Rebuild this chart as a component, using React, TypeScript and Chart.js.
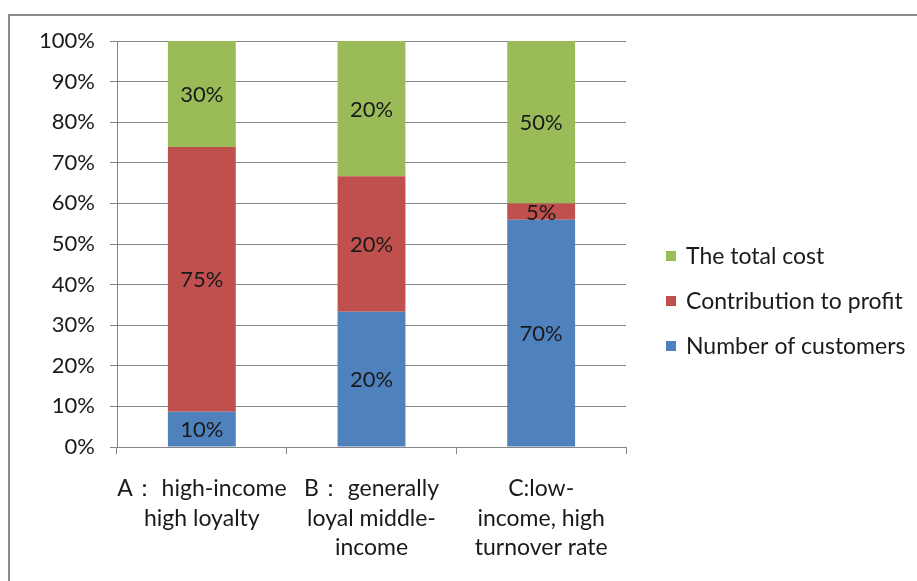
import React, { useEffect, useRef } from "react";
import { Chart, registerables } from "chart.js";

Chart.register(...registerables);

const categories: string[][] = [
  ["A： high-income", "high loyalty"],
  ["B： generally", "loyal middle-", "income"],
  ["C:low-", "income, high", "turnover rate"],
];
const seriesNames = ["Number of customers", "Contribution to profit", "The total cost"];
const customers = [10, 20, 70];
const profit = [75, 20, 5];
const cost = [30, 20, 50];
const colors = ["#4F81BD", "#C0504D", "#9BBB59"];

const FONT = "Lato, 'Liberation Sans', sans-serif";

const totals = categories.map((_, i) => customers[i] + profit[i] + cost[i]);
const pct = (arr: number[]) => arr.map((v, i) => (v / totals[i]) * 100);

const frameLegendPlugin = {
  id: "frameLegend",
  beforeDraw(chart: any) {
    const ctx = chart.ctx;
    ctx.save();
    ctx.fillStyle = "#ffffff";
    ctx.fillRect(0, 0, chart.width, chart.height);
    ctx.strokeStyle = "#8c8c8c";
    ctx.lineWidth = 2;
    ctx.strokeRect(9, 15, chart.width + 20, chart.height + 20);
    ctx.restore();
  },
  afterDraw(chart: any) {
    const ctx = chart.ctx;
    ctx.save();
    // data labels
    ctx.font = `22px ${FONT}`;
    ctx.fillStyle = "#1a1a1a";
    ctx.textAlign = "center";
    ctx.textBaseline = "middle";
    chart.data.datasets.forEach((ds: any, di: number) => {
      const meta = chart.getDatasetMeta(di);
      meta.data.forEach((el: any, i: number) => {
        const { x, y, base } = el.getProps(["x", "y", "base"], true);
        ctx.fillText(`${ds.rawValues[i]}%`, x, (y + base) / 2 + 1);
      });
    });
    // legend (reverse order: top = last dataset)
    ctx.font = `23px ${FONT}`;
    const items = chart.data.datasets.slice().reverse();
    const ys = [256, 301, 346];
    ctx.textAlign = "left";
    items.forEach((ds: any, k: number) => {
      ctx.fillStyle = ds.backgroundColor;
      ctx.fillRect(666, ys[k] - 5, 10, 10);
      ctx.fillStyle = "#1a1a1a";
      ctx.fillText(ds.label, 686, ys[k] + 1);
    });
    ctx.restore();
  },
};

export default function App() {
  const ref = useRef<HTMLCanvasElement | null>(null);
  useEffect(() => {
    if (!ref.current) return;
    const chart = new Chart(ref.current, {
      type: "bar",
      data: {
        labels: categories as any,
        datasets: [
          { label: seriesNames[0], data: pct(customers), rawValues: customers, backgroundColor: colors[0] } as any,
          { label: seriesNames[1], data: pct(profit), rawValues: profit, backgroundColor: colors[1] } as any,
          { label: seriesNames[2], data: pct(cost), rawValues: cost, backgroundColor: colors[2] } as any,
        ],
      },
      options: {
        animation: false,
        responsive: true,
        maintainAspectRatio: false,
        layout: { padding: { top: 41, right: 291, left: 0, bottom: 0 } },
        datasets: { bar: { categoryPercentage: 0.4, barPercentage: 1 } },
        plugins: { legend: { display: false }, tooltip: { enabled: false } },
        scales: {
          x: {
            stacked: true,
            grid: { drawOnChartArea: false, drawTicks: true, tickLength: 7, offset: true, color: "#868686" },
            border: { color: "#868686" },
            ticks: {
              color: "#1a1a1a",
              font: { family: FONT, size: 23, lineHeight: 1.28 },
              padding: 20,
              maxRotation: 0,
              autoSkip: false,
            },
            afterFit: (s: any) => { s.height = 134; },
          },
          y: {
            stacked: true,
            min: 0,
            max: 100,
            grid: { color: "#868686", tickLength: 7 },
            border: { color: "#868686" },
            ticks: {
              stepSize: 10,
              color: "#1a1a1a",
              font: { family: FONT, size: 22 },
              padding: 15,
              callback: (v: any) => `${v}%`,
            },
            afterFit: (s: any) => { s.width = 117; },
          },
        },
      },
      plugins: [frameLegendPlugin],
    });
    return () => chart.destroy();
  }, []);
  return (
    <div style={{ position: "absolute", left: 0, top: 0, width: 917, height: 581 }}>
      <canvas ref={ref} />
    </div>
  );
}
